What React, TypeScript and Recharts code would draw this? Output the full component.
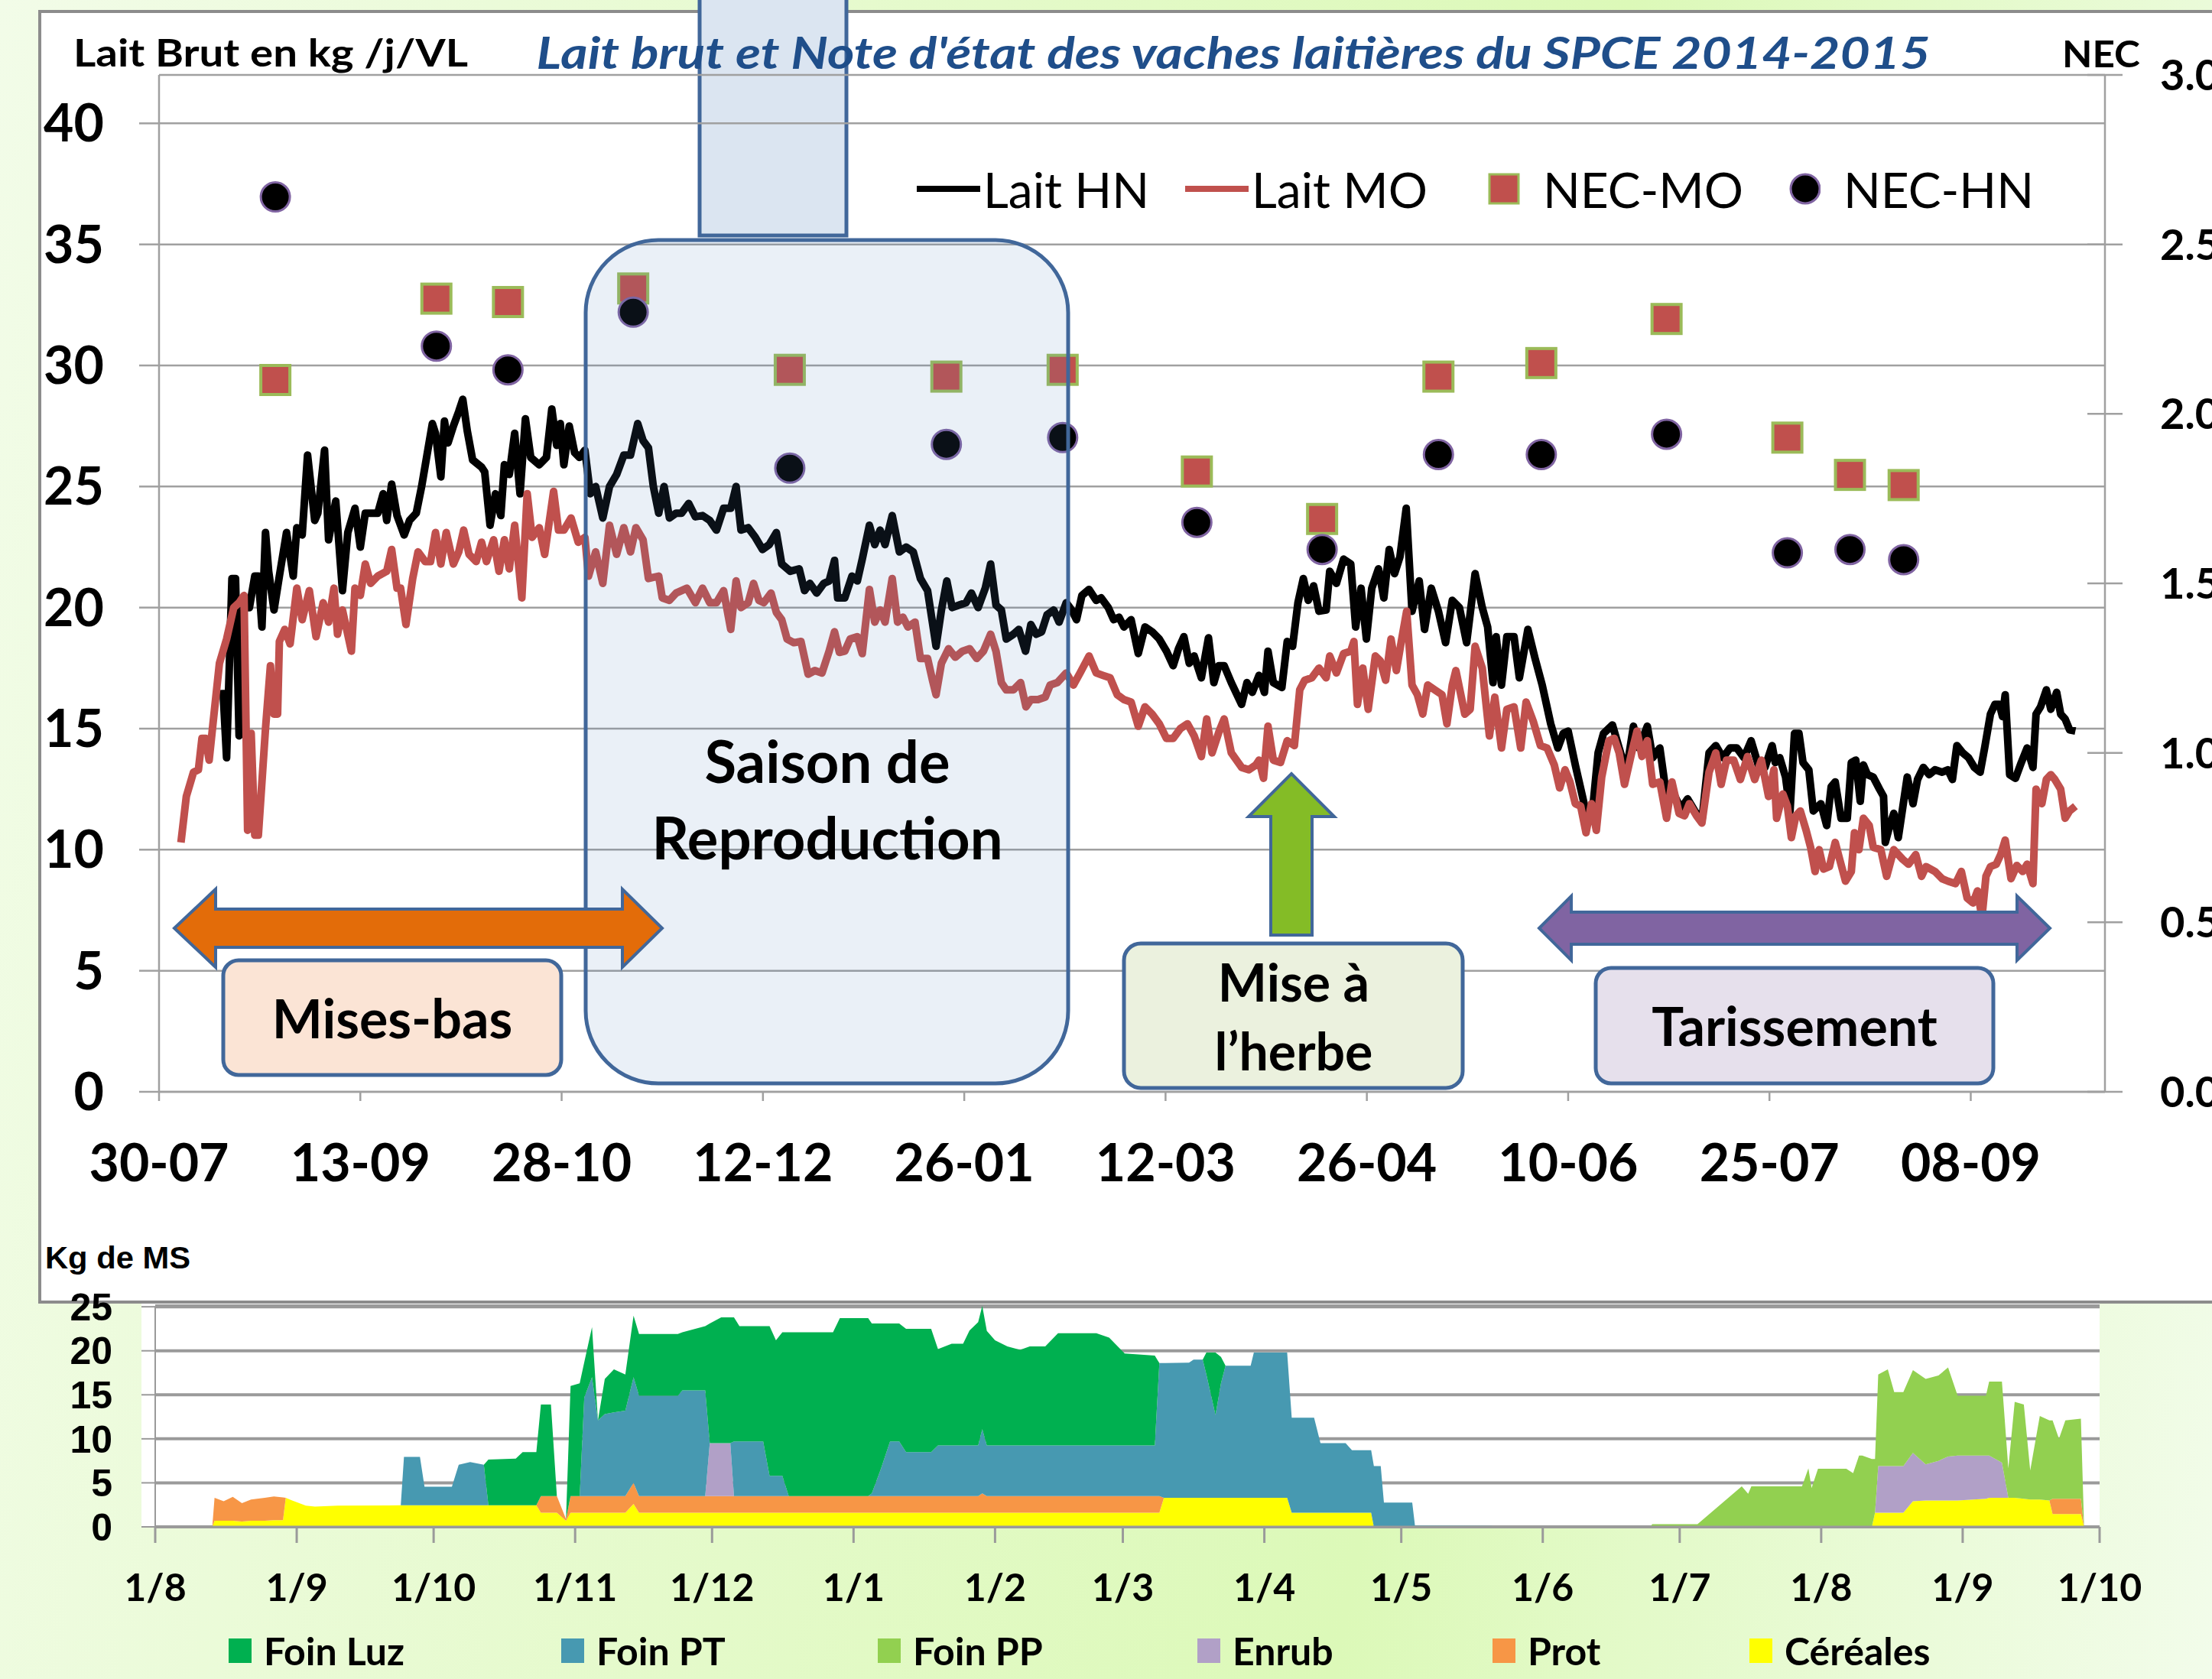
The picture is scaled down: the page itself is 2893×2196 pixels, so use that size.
import React from 'react';
import {
  Area,
  AreaChart,
  CartesianGrid,
  ComposedChart,
  Legend,
  Line,
  Scatter,
  XAxis,
  YAxis,
} from 'recharts';

const FONT = 'Lato, "Open Sans", sans-serif';
const ARIAL = '"Liberation Sans", Arial, sans-serif';
const EDGE = '#41679a';

// ---- main chart : days since 30-07-2014 ----
const mainTicks = [0, 45, 90, 135, 180, 225, 270, 315, 360, 405];
const mainTickLabels = ['30-07', '13-09', '28-10', '12-12', '26-01', '12-03', '26-04', '10-06', '25-07', '08-09'];
const leftTicks = [0, 5, 10, 15, 20, 25, 30, 35, 40];
const rightTicks = [0, 0.5, 1, 1.5, 2, 2.5, 3];
const mainLegendOrder = ['Lait HN', 'Lait MO', 'NEC-MO', 'NEC-HN'];

const laitHN: [number, number][] = [
  [14.3, 16.6], [15.1, 13.8], [16.3, 21.2], [17.1, 21.2], [17.9, 14.7], [19.0, 20.0], [20.2, 20.0], [21.4, 21.3], [22.2, 21.3], [23.0, 19.2],
  [23.8, 23.1], [24.5, 21.5], [25.7, 19.9], [26.9, 21.3], [28.5, 23.1], [30.0, 21.3], [30.8, 23.3], [32.0, 23.0], [33.2, 26.3], [34.8, 23.6],
  [35.5, 23.9], [37.0, 26.5], [37.9, 22.8], [39.5, 24.4], [41.0, 20.7], [42.2, 23.1], [43.8, 24.1], [45.0, 22.5], [46.1, 23.9], [48.9, 23.9],
  [50.1, 24.7], [50.9, 23.6], [52.0, 25.1], [53.2, 23.8], [54.8, 23.0], [56.0, 23.6], [57.5, 23.9], [58.7, 25.0], [59.9, 26.3], [61.1, 27.6],
  [61.8, 27.2], [63.0, 25.4], [63.8, 27.7], [64.6, 26.8], [65.8, 27.5], [67.0, 28.1], [67.9, 28.6], [68.9, 27.3], [70.1, 26.1], [72.1, 25.8],
  [72.8, 25.6], [74.0, 23.4], [75.2, 24.7], [76.4, 23.8], [77.2, 25.9], [78.3, 25.5], [79.5, 27.2], [80.7, 24.7], [81.9, 27.8], [83.1, 26.2],
  [85.0, 25.9], [86.6, 26.2], [87.8, 28.2], [88.9, 26.7], [89.7, 27.6], [90.5, 25.9], [91.7, 27.5], [92.9, 26.4], [94.0, 26.2], [95.2, 26.5],
  [96.4, 24.7], [97.6, 25.0], [99.2, 23.7], [100.7, 25.0], [102.3, 25.5], [103.9, 26.3], [105.4, 26.3], [107.0, 27.6], [108.2, 26.9], [109.4, 26.6],
  [110.5, 25.0], [111.7, 23.9], [112.9, 25.0], [114.1, 23.7], [115.6, 23.9], [116.8, 23.9], [118.4, 24.3],
  [119.9, 23.75], [121.5, 23.8], [123.1, 23.6], [124.6, 23.2], [126.2, 24.1], [127.8, 24.1], [129.0, 25.0], [130.1, 23.2], [131.7, 23.3], [133.3, 22.9],
  [134.9, 22.4], [136.4, 22.6], [138.0, 23.1], [139.2, 21.8], [141.1, 21.5], [143.1, 21.6], [144.3, 20.7], [145.5, 21.0], [147.0, 20.6], [148.6, 21.0],
  [149.8, 21.1], [151.0, 21.95], [151.7, 20.4], [153.3, 20.4], [154.9, 21.3], [156.1, 21.1], [157.2, 22.0], [158.8, 23.4], [160.0, 22.6], [161.2, 23.2],
  [162.3, 22.6], [163.9, 23.8], [165.5, 22.3], [167.0, 22.5], [168.6, 22.3], [170.2, 21.2], [171.8, 20.7], [173.7, 18.4], [174.9, 19.9], [176.1, 21.1],
  [177.3, 20.0], [178.8, 20.1], [180.4, 20.2], [181.6, 20.6], [183.1, 20.0], [184.7, 20.8], [185.9, 21.8], [187.1, 20.1], [188.3, 19.9], [189.4, 18.7],
  [191.0, 18.9], [192.2, 19.1], [193.7, 18.2], [194.9, 19.3], [196.1, 18.9], [197.3, 19.0], [198.5, 19.7], [200.0, 19.9], [201.2, 19.4], [202.8, 20.2],
  [204.0, 19.9], [205.1, 19.5], [206.3, 20.5], [207.9, 20.75], [209.5, 20.3], [210.6, 20.4], [212.2, 20.0], [213.4, 19.5], [214.6, 19.6], [215.7, 19.2],
  [217.3, 19.5], [218.9, 18.1], [220.4, 19.2], [222.0, 19.0], [223.6, 18.7], [225.2, 18.2], [226.7, 17.6], [227.9, 18.3], [229.1, 18.8], [230.3, 17.7],
  [231.4, 18.0], [233.0, 17.1], [234.6, 18.75], [235.8, 16.9], [236.9, 17.6], [238.1, 17.6], [239.7, 16.9],
  [242.0, 16.0], [243.2, 16.9], [244.4, 16.5], [245.9, 17.2], [247.1, 16.5], [247.9, 18.2], [249.1, 16.9], [251.0, 16.7], [252.2, 18.6], [253.4, 18.4],
  [254.6, 20.2], [255.8, 21.2], [256.9, 20.3], [258.1, 20.9], [259.3, 19.85], [260.9, 19.9], [261.7, 21.5], [263.2, 21.0], [264.8, 22.0], [266.4, 21.8],
  [267.5, 19.2], [268.7, 20.8], [269.9, 18.7], [271.1, 20.8], [272.6, 21.6], [273.8, 20.4], [275.0, 22.4], [276.2, 21.4], [277.4, 22.1], [278.8, 24.1],
  [280.1, 19.85], [281.7, 21.1], [282.9, 19.1], [284.4, 20.8], [286.0, 19.85], [287.6, 18.55], [289.1, 20.3], [290.7, 20.0], [292.3, 18.55], [294.2, 21.4],
  [295.8, 20.0], [297.0, 19.2], [298.2, 16.9], [298.9, 18.8], [300.1, 16.8], [301.3, 18.8], [302.9, 18.8], [304.1, 17.1], [306.0, 19.1], [307.6, 17.9],
  [309.2, 16.8], [311.1, 15.2], [312.7, 14.2], [313.9, 14.8], [315.0, 14.9], [316.6, 13.5], [318.2, 12.2], [319.4, 11.2], [320.5, 11.7], [321.7, 14.0],
  [322.9, 14.8], [324.9, 15.15], [326.4, 14.2], [328.0, 13.2], [329.6, 15.1], [330.8, 14.2], [332.7, 15.1], [333.9, 13.8], [335.5, 14.2], [337.0, 12.2],
  [338.6, 12.3], [340.2, 11.7], [341.7, 12.1], [343.3, 11.6], [344.9, 11.2], [346.5, 14.0], [348.0, 14.3], [349.6, 13.8], [351.2, 14.2], [352.7, 14.2],
  [354.3, 13.8], [355.9, 14.5], [357.5, 13.5], [359.0, 13.4], [360.6, 14.3],
  [361.3, 13.6], [362.3, 13.8], [363.6, 13.0], [364.6, 11.6], [365.6, 14.8], [366.6, 14.8], [367.5, 13.6], [368.8, 13.3], [369.8, 11.6], [371.5, 11.9],
  [372.8, 11.0], [373.8, 12.6], [374.7, 12.8], [376.0, 11.3], [377.4, 11.3], [378.3, 13.6], [379.3, 13.7], [380.3, 12.0], [381.0, 13.5], [381.9, 13.1],
  [383.2, 13.0], [384.6, 12.5], [385.5, 12.2], [385.9, 10.3], [386.9, 11.0], [387.8, 11.5], [388.8, 10.5], [389.8, 11.75], [390.8, 13.0], [392.1, 11.9],
  [393.1, 12.9], [394.4, 13.4], [395.7, 13.1], [397.0, 13.3], [398.6, 13.2], [399.9, 13.3], [400.9, 12.9], [401.9, 14.3], [403.2, 14.0], [404.5, 13.8],
  [405.8, 13.4], [407.1, 13.2], [408.1, 14.2], [409.4, 15.6], [410.4, 16.0], [411.4, 16.0], [412.1, 15.5], [412.7, 16.4], [413.7, 13.1], [415.0, 12.95],
  [416.3, 13.6], [417.6, 14.2], [418.9, 13.4], [419.6, 15.6], [420.6, 15.9], [421.9, 16.6], [422.9, 15.8], [424.2, 16.5], [425.1, 15.6], [426.1, 15.4],
  [427.1, 14.95], [428.4, 14.9],
];

const laitMO: [number, number][] = [
  [4.9, 10.3], [6.1, 12.2], [7.7, 13.2], [8.8, 13.3], [9.6, 14.6], [10.4, 14.6], [11.2, 13.7], [12.0, 15.1], [13.5, 17.7], [15.1, 18.7],
  [16.7, 20.0], [17.9, 20.2], [19.0, 20.5], [19.8, 10.8], [20.6, 14.8], [21.4, 10.6], [22.2, 10.6], [23.8, 15.0], [24.9, 17.6], [25.7, 15.6],
  [26.5, 15.6], [26.9, 18.6], [28.1, 19.1], [29.3, 18.5], [30.8, 20.8], [32.0, 19.5], [33.6, 20.7], [35.1, 18.8], [36.7, 20.2], [37.9, 19.4],
  [39.1, 20.8], [39.9, 18.9], [41.0, 19.9], [43.0, 18.2], [43.8, 20.8], [45.0, 20.5], [46.1, 21.8], [47.3, 21.0], [48.9, 21.3], [50.9, 21.5],
  [52.0, 22.4], [53.2, 20.8], [54.0, 20.8], [55.2, 19.3], [56.7, 21.2], [57.9, 22.3], [59.5, 21.9], [60.7, 21.9], [61.8, 23.1], [63.0, 21.8],
  [64.2, 23.1], [65.8, 21.8], [67.0, 22.3], [68.1, 23.2], [69.3, 22.2], [70.9, 21.9], [72.1, 22.7], [73.2, 21.9], [74.8, 22.8], [76.0, 21.5],
  [77.2, 22.8], [78.3, 21.6], [79.5, 23.4], [81.1, 20.4], [82.3, 24.7], [83.4, 22.9], [85.0, 23.3], [86.2, 22.2], [88.2, 24.8], [89.3, 23.2],
  [90.5, 23.2], [92.1, 23.7], [93.7, 22.7], [95.2, 22.9], [96.0, 21.3], [97.6, 22.3], [99.2, 21.0], [100.7, 23.4], [102.3, 22.2], [103.9, 23.3],
  [105.4, 22.3], [106.6, 23.3], [108.2, 22.8], [109.4, 21.2], [111.7, 21.3], [112.5, 20.4], [114.1, 20.3], [115.6, 20.6], [118.0, 20.8],
  [119.9, 20.2], [121.5, 20.8], [123.1, 20.2], [124.6, 20.2], [126.2, 20.7], [127.8, 19.1], [129.0, 21.1], [130.1, 20.0], [131.7, 20.2], [132.9, 21.0],
  [134.1, 20.3], [135.2, 20.2], [136.8, 20.6], [138.0, 19.8], [139.2, 19.5], [140.4, 18.7], [141.9, 18.55], [143.5, 18.6], [145.1, 17.25], [146.6, 17.4],
  [148.2, 17.3], [149.8, 18.2], [151.0, 19.0], [152.1, 18.15], [153.3, 18.2], [154.5, 18.7], [156.1, 18.8], [157.2, 18.1], [158.8, 20.75], [160.0, 19.4],
  [161.2, 19.9], [162.3, 19.4], [163.9, 21.2], [165.1, 19.4], [166.3, 19.6], [167.4, 19.2], [169.0, 19.4], [170.2, 17.9], [171.8, 17.9], [172.9, 17.0],
  [173.7, 16.4], [174.9, 17.7], [176.5, 18.3], [178.0, 17.95], [179.6, 18.2], [181.2, 18.3], [182.8, 17.9], [184.3, 18.2], [185.9, 18.9], [187.1, 18.2],
  [188.3, 16.9], [189.4, 16.6], [191.0, 16.6], [192.6, 16.9], [193.8, 15.9], [194.9, 16.2], [196.5, 16.2], [198.1, 16.3], [199.2, 16.8], [200.8, 16.9],
  [202.8, 17.3], [204.4, 16.8], [205.9, 17.3], [207.9, 18.0], [209.5, 17.3], [211.0, 17.2], [212.6, 17.1], [214.2, 16.4], [215.7, 16.2], [217.3, 16.1],
  [218.9, 15.1], [220.4, 15.9], [222.0, 15.6], [223.6, 15.2], [225.2, 14.6], [226.7, 14.6], [228.3, 15.0], [229.9, 15.2], [231.4, 14.7], [233.0, 13.85],
  [234.2, 15.4], [235.4, 14.0], [237.0, 14.9], [238.1, 15.4], [239.7, 14.0],
  [242.0, 13.4], [243.6, 13.3], [245.2, 13.5], [245.9, 13.7], [246.9, 12.95], [247.9, 15.1], [249.1, 13.7], [250.7, 13.6], [252.2, 14.5], [253.8, 14.3],
  [255.0, 16.6], [256.1, 17.0], [257.7, 17.1], [259.3, 17.5], [260.9, 17.1], [261.7, 18.0], [263.2, 17.3], [264.8, 18.1], [266.4, 18.2], [267.1, 18.6],
  [267.9, 16.0], [269.1, 17.5], [270.3, 15.8], [271.9, 18.0], [273.0, 17.8], [274.2, 17.0], [275.4, 18.7], [276.6, 17.4], [277.7, 18.6], [278.9, 19.85],
  [280.1, 16.8], [281.3, 16.4], [282.5, 15.6], [283.6, 16.8], [285.2, 16.6], [286.8, 16.4], [287.9, 15.2], [289.1, 16.8], [289.9, 17.4], [291.9, 15.6],
  [293.1, 15.8], [294.2, 18.4], [295.8, 17.5], [297.4, 14.7], [298.6, 16.3], [300.1, 14.2], [301.3, 15.8], [302.9, 15.9], [304.4, 14.2], [305.6, 16.1],
  [307.2, 15.3], [308.8, 14.3], [310.3, 14.2], [311.9, 13.5], [313.1, 12.55], [314.3, 13.3], [315.4, 12.8], [316.6, 11.9], [317.8, 11.8], [319.0, 10.7],
  [320.2, 11.9], [321.3, 10.8], [322.5, 13.0], [324.1, 14.5], [325.3, 14.6], [326.4, 14.0], [327.6, 12.7], [329.2, 14.0], [330.4, 14.9], [331.5, 13.85],
  [332.7, 14.5], [333.9, 12.7], [335.5, 12.8], [337.0, 11.3], [338.2, 12.8], [339.8, 11.5], [341.0, 11.4], [342.1, 11.9], [343.7, 11.4], [344.9, 11.1],
  [346.5, 13.2], [348.0, 14.0], [349.2, 12.7], [350.4, 13.7], [352.0, 13.7], [353.5, 12.9], [355.1, 13.85], [356.7, 12.9], [358.2, 13.7], [359.8, 12.2],
  [361.0, 13.3], [361.6, 11.3], [363.0, 12.3], [364.0, 11.8], [364.9, 10.5], [365.9, 11.4], [366.9, 11.6], [368.2, 10.8], [369.2, 10.1], [370.2, 9.1],
  [371.1, 10.0], [372.1, 9.2], [373.4, 9.3], [374.7, 10.3], [375.7, 9.6], [377.0, 8.7], [378.3, 9.1], [379.0, 10.7], [380.0, 10.0], [381.0, 11.3],
  [382.3, 11.0], [383.2, 10.1], [384.9, 10.0], [386.2, 8.9], [387.8, 10.0], [389.8, 9.6], [391.1, 9.4], [392.7, 9.8], [394.0, 8.9], [395.0, 9.3],
  [397.0, 9.1], [398.6, 8.8], [399.9, 8.7], [401.6, 8.6], [402.9, 9.1], [404.2, 8.0], [405.5, 7.8], [406.5, 8.3], [407.5, 7.2], [408.4, 8.9],
  [409.4, 9.3], [410.7, 9.4], [411.7, 9.8], [412.7, 10.4], [414.0, 8.8], [415.3, 9.35], [416.6, 9.1], [417.6, 9.4], [418.9, 8.6], [419.6, 12.5],
  [420.9, 11.9], [421.9, 12.9], [422.9, 13.1], [423.8, 12.9], [425.1, 12.5], [426.1, 11.3], [427.1, 11.6], [428.4, 11.8],
];

// NEC (note d'état corporel), secondary axis
const necDays = [26, 62, 78, 106, 141, 176, 202, 232, 260, 286, 309, 337, 364, 378, 390];
const necMO = [2.1, 2.34, 2.33, 2.37, 2.13, 2.11, 2.13, 1.83, 1.69, 2.11, 2.15, 2.28, 1.93, 1.82, 1.79];
const necHN = [2.64, 2.2, 2.13, 2.3, 1.84, 1.91, 1.93, 1.68, 1.6, 1.88, 1.88, 1.94, 1.59, 1.6, 1.57];

// ---- feed chart : days since 01-08-2014 ----
const feedTicks = [0, 31, 61, 92, 122, 153, 184, 212, 243, 273, 304, 334, 365, 396, 426];
const feedTickLabels = ['1/8', '1/9', '1/10', '1/11', '1/12', '1/1', '1/2', '1/3', '1/4', '1/5', '1/6', '1/7', '1/8', '1/9', '1/10'];
const feedTicksY = [0, 5, 10, 15, 20, 25];
const feedLegendOrder = ['Foin Luz', 'Foin PT', 'Foin PP', 'Enrub', 'Prot', 'Céréales'];

const feedDays = [
  0, 12.5, 13, 15, 17, 19, 21, 24, 26, 28,
  28.6, 30, 33, 35, 40, 53.8, 54.5, 58, 59, 65,
  66.5, 69, 72, 73, 79, 80.5, 83.5, 84.5, 86.7, 88,
  90, 91, 93, 94, 95.7, 97, 98.5, 100.5, 103, 104.8,
  106, 114.5, 115.5, 120.5, 121.5, 124, 126, 126.8, 128, 133.2,
  134.6, 136, 137.4, 138.8, 148.5, 150, 156.2, 157, 159, 161,
  163, 164.5, 170, 171.5, 174.5, 177, 178.4, 180.3, 181.2, 182.2,
  184, 186.7, 189.5, 191.6, 195, 197.8, 206.2, 209, 212.4, 219,
  220, 221, 226.5, 227.5, 229.5, 230.3, 232.3, 233.5, 234.5, 240,
  240.7, 248, 249, 253.9, 255.3, 260.8, 262.2, 266.4, 267, 268.5,
  269.2, 275.4, 276, 292.8, 293.5, 327.5, 328, 337.9, 347.6, 349,
  349.7, 360.8, 362.2, 362.9, 364.3, 370.5, 372, 373.3, 374, 376.1,
  376.8, 377.5, 379.6, 381, 383, 385.1, 387.9, 390.7, 392.8, 394.9,
  401.1, 401.8, 404.6, 406, 407.4, 409.4, 410.8, 412.9, 415, 415.7,
  417.1, 418.5, 421.9, 422.6, 426,
];
const cereales = [
  0, 0, 0.7, 0.7, 0.7, 0.6, 0.7, 0.7, 0.75, 0.75,
  3.3, 3.0, 2.4, 2.3, 2.4, 2.45, 2.45, 2.45, 2.45, 2.45,
  2.45, 2.45, 2.45, 2.45, 2.45, 2.45, 2.45, 1.6, 1.6, 1.6,
  0.7, 1.6, 1.6, 1.6, 1.6, 1.6, 1.6, 1.6, 1.6, 2.6,
  1.6, 1.6, 1.6, 1.6, 1.6, 1.6, 1.6, 1.6, 1.6, 1.6,
  1.6, 1.6, 1.6, 1.6, 1.6, 1.6, 1.6, 1.6, 1.6, 1.6,
  1.6, 1.6, 1.6, 1.6, 1.6, 1.6, 1.6, 1.6, 1.6, 1.6,
  1.6, 1.6, 1.6, 1.6, 1.6, 1.6, 1.6, 1.6, 1.6, 1.6,
  1.6, 3.3, 3.3, 3.3, 3.3, 3.3, 3.3, 3.3, 3.3, 3.3,
  3.3, 3.3, 1.6, 1.6, 1.6, 1.6, 1.6, 1.6, 0, 0,
  0, 0, 0, 0, 0, 0, 0, 0, 0, 0,
  0, 0, 0, 0, 0, 0, 0, 0, 0, 0,
  1.6, 1.6, 1.6, 1.6, 1.6, 2.9, 3.0, 3.0, 3.0, 3.0,
  3.2, 3.3, 3.3, 3.3, 3.3, 3.2, 3.1, 3.1, 3.0, 1.45,
  1.45, 1.45, 1.45, 0, 0,
];
const prot = [
  0, 0, 2.6, 2.2, 2.7, 2.1, 2.4, 2.6, 2.7, 2.6,
  0, 0, 0, 0, 0, 0, 0, 0, 0, 0,
  0, 0, 0, 0, 0, 0, 0, 1.9, 1.9, 1.9,
  0.2, 1.9, 1.9, 1.9, 1.9, 1.9, 1.9, 1.9, 1.9, 2.4,
  1.9, 1.9, 1.9, 1.9, 1.9, 1.9, 1.9, 1.9, 1.9, 1.9,
  1.9, 1.9, 1.9, 1.9, 1.9, 1.9, 1.9, 1.9, 1.9, 1.9,
  1.9, 1.9, 1.9, 1.9, 1.9, 1.9, 1.9, 1.9, 2.2, 1.9,
  1.9, 1.9, 1.9, 1.9, 1.9, 1.9, 1.9, 1.9, 1.9, 1.9,
  1.9, 0, 0, 0, 0, 0, 0, 0, 0, 0,
  0, 0, 0, 0, 0, 0, 0, 0, 0, 0,
  0, 0, 0, 0, 0, 0, 0, 0, 0, 0,
  0, 0, 0, 0, 0, 0, 0, 0, 0, 0,
  0, 0, 0, 0, 0, 0, 0, 0, 0, 0,
  0, 0, 0, 0, 0, 0, 0, 0, 0, 1.75,
  1.75, 1.75, 1.75, 0, 0,
];
const enrub = [
  0, 0, 0, 0, 0, 0, 0, 0, 0, 0,
  0, 0, 0, 0, 0, 0, 0, 0, 0, 0,
  0, 0, 0, 0, 0, 0, 0, 0, 0, 0,
  0, 0, 0, 0, 0, 0, 0, 0, 0, 0,
  0, 0, 0, 0, 6.0, 6.0, 6.0, 0, 0, 0,
  0, 0, 0, 0, 0, 0, 0, 0, 0, 0,
  0, 0, 0, 0, 0, 0, 0, 0, 0, 0,
  0, 0, 0, 0, 0, 0, 0, 0, 0, 0,
  0, 0, 0, 0, 0, 0, 0, 0, 0, 0,
  0, 0, 0, 0, 0, 0, 0, 0, 0, 0,
  0, 0, 0, 0, 0, 0, 0, 0, 0, 0,
  0, 0, 0, 0, 0, 0, 0, 0, 0, 0,
  0, 5.3, 5.3, 5.3, 5.3, 5.5, 4.1, 4.5, 5.0, 5.1,
  4.9, 4.8, 4.0, 0, 0, 0, 0, 0, 0, 0,
  0, 0, 0, 0, 0,
];
const foinPP = [
  0, 0, 0, 0, 0, 0, 0, 0, 0, 0,
  0, 0, 0, 0, 0, 0, 0, 0, 0, 0,
  0, 0, 0, 0, 0, 0, 0, 0, 0, 0,
  0, 0, 0, 0, 0, 0, 0, 0, 0, 0,
  0, 0, 0, 0, 0, 0, 0, 0, 0, 0,
  0, 0, 0, 0, 0, 0, 0, 0, 0, 0,
  0, 0, 0, 0, 0, 0, 0, 0, 0, 0,
  0, 0, 0, 0, 0, 0, 0, 0, 0, 0,
  0, 0, 0, 0, 0, 0, 0, 0, 0, 0,
  0, 0, 0, 0, 0, 0, 0, 0, 0, 0,
  0, 0, 0, 0, 0, 0, 0.3, 0.3, 4.6, 3.75,
  4.6, 4.6, 6.65, 4.4, 6.6, 6.6, 6.1, 8.1, 8.1, 7.7,
  6.1, 10.4, 11.0, 8.4, 8.4, 9.4, 9.7, 9.7, 10.1, 6.8,
  6.8, 8.4, 9.2, 3.35, 10.9, 10.7, 3.3, 9.5, 9.1, 8.9,
  6.8, 8.9, 9.1, 0, 0,
];
const foinPT = [
  0, 0, 0, 0, 0, 0, 0, 0, 0, 0,
  0, 0, 0, 0, 0, 0, 5.5, 5.5, 2.1, 2.1,
  4.6, 4.9, 4.6, 0, 0, 0, 0, 0, 0, 0,
  0, 0, 0, 11.2, 13.5, 8.6, 9.3, 9.5, 9.7, 12.0,
  11.4, 11.4, 12.0, 12.0, 0, 0, 0, 6.2, 6.2, 6.2,
  2.3, 2.3, 2.3, 0, 0, 0, 0, 0.3, 3.1, 6.2,
  6.2, 5.0, 5.0, 5.75, 5.75, 5.75, 5.75, 5.75, 7.3, 5.75,
  5.75, 5.75, 5.75, 5.75, 5.75, 5.75, 5.75, 5.75, 5.75, 5.75,
  15.1, 15.3, 15.35, 15.7, 15.7, 14.0, 9.4, 13.0, 15.0, 15.0,
  16.5, 16.5, 10.8, 10.8, 7.9, 7.9, 7.1, 7.1, 6.9, 6.9,
  2.75, 2.75, 0.15, 0.1, 0, 0, 0, 0, 0, 0,
  0, 0, 0, 0, 0, 0, 0, 0, 0, 0,
  0, 0, 0, 0, 0, 0, 0, 0, 0, 0,
  0, 0, 0, 0, 0, 0, 0, 0, 0, 0,
  0, 0, 0, 0, 0,
];
const foinLuz = [
  0, 0, 0, 0, 0, 0, 0, 0, 0, 0,
  0, 0, 0, 0, 0, 0, 0, 0, 0, 0,
  0, 0, 0, 5.2, 5.3, 6.05, 6.05, 10.4, 10.4, 0,
  0, 12.5, 12.8, 4.0, 5.7, 0, 4.0, 4.9, 4.1, 7.0,
  7.0, 7.0, 6.6, 7.3, 13.6, 14.3, 14.3, 14.1, 13.1, 13.1,
  17.0, 15.4, 16.3, 18.6, 18.6, 20.2, 20.2, 19.3, 16.5, 13.4,
  13.4, 14.0, 14.0, 10.95, 11.55, 11.55, 13.05, 14.0, 14.0, 13.0,
  11.95, 11.25, 10.85, 11.25, 11.25, 12.75, 12.75, 12.25, 10.45, 10.2,
  0, 0, 0, 0, 0, 2.5, 7.1, 3.0, 0, 0,
  0, 0, 0, 0, 0, 0, 0, 0, 0, 0,
  0, 0, 0, 0, 0, 0, 0, 0, 0, 0,
  0, 0, 0, 0, 0, 0, 0, 0, 0, 0,
  0, 0, 0, 0, 0, 0, 0, 0, 0, 0,
  0, 0, 0, 0, 0, 0, 0, 0, 0, 0,
  0, 0, 0, 0, 0,
];

const hnData = laitHN.map(([d, v]) => ({ d, v }));
const moData = laitMO.map(([d, v]) => ({ d, v }));
const necMOData = necDays.map((d, i) => ({ d, v: necMO[i] }));
const necHNData = necDays.map((d, i) => ({ d, v: necHN[i] }));
const feedData = feedDays.map((d, i) => ({
  d,
  cer: cereales[i],
  prot: prot[i],
  enrub: enrub[i],
  pp: foinPP[i],
  pt: foinPT[i],
  luz: foinLuz[i],
}));

const SquareDot = (p: any) => (
  <rect x={p.cx - 19} y={p.cy - 19} width={38} height={38} fill="#c0504d" stroke="#9bbb59" strokeWidth={4} />
);
const RoundDot = (p: any) => <circle cx={p.cx} cy={p.cy} r={19} fill="#000" stroke="#8064a2" strokeWidth={3} />;

const RightTick = (props: any) => {
  const { x, y, payload } = props;
  const ax = x - 72;
  return (
    <g>
      <line x1={ax - 23} x2={ax + 23} y1={y} y2={y} stroke="#a0a0a0" strokeWidth={2.5} />
      <text x={x} y={y} dy="0.36em" textAnchor="start" fontFamily={FONT} fontWeight="bold" fontSize={56} fill="#000">
        {Number(payload.value).toFixed(1)}
      </text>
    </g>
  );
};

const sortBy = (items: any[], order: string[]) =>
  [...items].sort((a, b) => order.indexOf(a.value) - order.indexOf(b.value));

const mainLegendWidths = [351, 396, 394, 320];
const renderMainLegend = (props: any) => {
  const items = sortBy(props.payload || [], mainLegendOrder);
  return (
    <div style={{ display: 'flex', alignItems: 'center', height: 74, fontFamily: FONT, fontSize: 64, color: '#000', whiteSpace: 'nowrap' }}>
      {items.map((e: any, i: number) => (
        <div key={e.value} style={{ width: mainLegendWidths[i], display: 'flex', alignItems: 'center' }}>
          {e.type === 'line' && (
            <svg width={83} height={20}><line x1={0} x2={83} y1={10} y2={10} stroke={e.color} strokeWidth={8} /></svg>
          )}
          {e.type === 'square' && (
            <svg width={42} height={42}><rect x={2} y={2} width={38} height={38} fill="#c0504d" stroke="#9bbb59" strokeWidth={3} /></svg>
          )}
          {e.type === 'circle' && (
            <svg width={42} height={42}><circle cx={21} cy={21} r={19} fill="#000" stroke="#8064a2" strokeWidth={3} /></svg>
          )}
          <span style={{ marginLeft: e.type === 'line' ? 4 : 30 }}>{e.value}</span>
        </div>
      ))}
    </div>
  );
};

const feedLegendWidths = [435, 414, 418, 386, 336, 260];
const renderFeedLegend = (props: any) => {
  const items = sortBy(props.payload || [], feedLegendOrder);
  return (
    <div style={{ display: 'flex', alignItems: 'center', height: 60, fontFamily: FONT, fontWeight: 'bold', fontSize: 50, color: '#000', whiteSpace: 'nowrap' }}>
      {items.map((e: any, i: number) => (
        <div key={e.value} style={{ width: feedLegendWidths[i], display: 'flex', alignItems: 'center' }}>
          <div style={{ width: 30, height: 32, background: e.color }} />
          <span style={{ marginLeft: 16 }}>{e.value}</span>
        </div>
      ))}
    </div>
  );
};

const gridStroke = '#a0a0a0';

export default function App() {
  return (
    <div
      style={{
        position: 'absolute',
        left: 0,
        top: 0,
        width: 2893,
        height: 2196,
        overflow: 'hidden',
        background: 'linear-gradient(100deg, #f2fce8 0%, #e4fac9 40%, #dcf9b8 65%, #f2fcea 100%)',
      }}
    >
      {/* white panel of the upper chart */}
      <div
        style={{
          position: 'absolute',
          left: 50,
          top: 13,
          width: 2900,
          height: 1692,
          background: '#fff',
          border: '4px solid #8c8c8c',
          boxSizing: 'border-box',
        }}
      />
      {/* white plot band of the lower chart */}
      <div style={{ position: 'absolute', left: 185, top: 1705, width: 2561, height: 292, background: '#fff' }} />

      {/* box behind the title */}
      <svg width={2893} height={400} style={{ position: 'absolute', left: 0, top: 0 }}>
        <rect x={915} y={-10} width={192} height={318} fill="#dbe5f1" stroke={EDGE} strokeWidth={5} />
      </svg>

      <div style={{ position: 'absolute', left: 0, top: 0 }}>
        <ComposedChart width={2893} height={1700} margin={{ top: 98, right: 53, bottom: 172, left: 50 }}>
          <CartesianGrid yAxisId="left" vertical={false} stroke={gridStroke} strokeWidth={2.5} />
          <XAxis
            type="number"
            dataKey="d"
            domain={[0, 435]}
            ticks={mainTicks}
            interval={0}
            allowDataOverflow
            height={100}
            tickSize={12}
            tickMargin={57}
            stroke={gridStroke}
            strokeWidth={2.5}
            tickFormatter={(v: number) => mainTickLabels[mainTicks.indexOf(v)]}
            tick={{ fontFamily: FONT, fontWeight: 'bold', fontSize: 68, fill: '#000' }}
          />
          <YAxis
            yAxisId="left"
            domain={[0, 42]}
            ticks={leftTicks}
            interval={0}
            width={158}
            tickSize={26}
            tickMargin={46}
            stroke={gridStroke}
            strokeWidth={2.5}
            tick={{ fontFamily: FONT, fontWeight: 'bold', fontSize: 68, fill: '#000' }}
          />
          <YAxis
            yAxisId="right"
            orientation="right"
            domain={[0, 3]}
            ticks={rightTicks}
            interval={0}
            width={87}
            tickSize={23}
            tickMargin={49}
            tickLine={false}
            stroke={gridStroke}
            strokeWidth={2.5}
            tick={<RightTick />}
          />
          <Legend
            verticalAlign="middle"
            align="center"
            layout="horizontal"
            content={renderMainLegend}
            wrapperStyle={{ left: 1199, top: 210, width: 1560, height: 74 }}
          />
          <Line
            yAxisId="left"
            data={hnData}
            dataKey="v"
            name="Lait HN"
            type="linear"
            stroke="#000"
            strokeWidth={10}
            strokeLinejoin="round"
            dot={false}
            legendType="line"
            isAnimationActive={false}
          />
          <Line
            yAxisId="left"
            data={moData}
            dataKey="v"
            name="Lait MO"
            type="linear"
            stroke="#c0504d"
            strokeWidth={10}
            strokeLinejoin="round"
            dot={false}
            legendType="line"
            isAnimationActive={false}
          />
          <Scatter
            yAxisId="right"
            data={necMOData}
            dataKey="v"
            name="NEC-MO"
            fill="#c0504d"
            legendType="square"
            shape={SquareDot}
            isAnimationActive={false}
          />
          <Scatter
            yAxisId="right"
            data={necHNData}
            dataKey="v"
            name="NEC-HN"
            fill="#000"
            legendType="circle"
            shape={RoundDot}
            isAnimationActive={false}
          />
        </ComposedChart>
      </div>

      <div style={{ position: 'absolute', left: 0, top: 1600 }}>
        <AreaChart width={2893} height={596} data={feedData} margin={{ top: 108, right: 147, bottom: 89, left: 0 }}>
          <CartesianGrid vertical={false} stroke="#9a9a9a" strokeWidth={4} />
          <XAxis
            type="number"
            dataKey="d"
            domain={[0, 426]}
            ticks={feedTicks}
            interval={0}
            height={110}
            tickSize={21}
            tickMargin={40}
            stroke="#9a9a9a"
            strokeWidth={3}
            tickFormatter={(v: number) => feedTickLabels[feedTicks.indexOf(v)]}
            tick={{ fontFamily: FONT, fontWeight: 'bold', fontSize: 50, fill: '#000' }}
          />
          <YAxis
            domain={[0, 25]}
            ticks={feedTicksY}
            interval={0}
            width={203}
            tickSize={18}
            tickMargin={38}
            stroke="#9a9a9a"
            strokeWidth={2}
            tick={{ fontFamily: ARIAL, fontWeight: 'bold', fontSize: 50, fill: '#000' }}
          />
          <Legend
            verticalAlign="middle"
            align="center"
            layout="horizontal"
            content={renderFeedLegend}
            wrapperStyle={{ left: 299, top: 529, width: 2500, height: 60 }}
          />
          <Area stackId="feed" type="linear" dataKey="cer" name="Céréales" fill="#ffff00" stroke="none" fillOpacity={1} isAnimationActive={false} />
          <Area stackId="feed" type="linear" dataKey="prot" name="Prot" fill="#f79646" stroke="none" fillOpacity={1} isAnimationActive={false} />
          <Area stackId="feed" type="linear" dataKey="enrub" name="Enrub" fill="#b1a0c7" stroke="none" fillOpacity={1} isAnimationActive={false} />
          <Area stackId="feed" type="linear" dataKey="pp" name="Foin PP" fill="#92d050" stroke="none" fillOpacity={1} isAnimationActive={false} />
          <Area stackId="feed" type="linear" dataKey="pt" name="Foin PT" fill="#4799b1" stroke="none" fillOpacity={1} isAnimationActive={false} />
          <Area stackId="feed" type="linear" dataKey="luz" name="Foin Luz" fill="#00b050" stroke="none" fillOpacity={1} isAnimationActive={false} />
        </AreaChart>
      </div>

      {/* annotations */}
      <svg width={2893} height={2196} style={{ position: 'absolute', left: 0, top: 0, pointerEvents: 'none' }}>
        <text x={1613} y={90} textAnchor="middle" fontFamily={FONT} fontStyle="italic" fontWeight="bold" fontSize={58} fill="#1f4e8a" textLength={1823} lengthAdjust="spacingAndGlyphs">
          Lait brut et Note d'état des vaches laitières du SPCE 2014-2015
        </text>
        <text x={96} y={87} fontFamily={FONT} fontWeight="bold" fontSize={50} fill="#000" textLength={516} lengthAdjust="spacingAndGlyphs">
          Lait Brut en kg /j/VL
        </text>
        <text x={2697} y={88} fontFamily={FONT} fontWeight="bold" fontSize={48} fill="#000" textLength={102} lengthAdjust="spacingAndGlyphs">
          NEC
        </text>
        <text x={59} y={1659} fontFamily={ARIAL} fontWeight="bold" fontSize={40} fill="#000" textLength={190} lengthAdjust="spacingAndGlyphs">
          Kg de MS
        </text>

        <rect x={766} y={314} width={631} height={1103} rx={95} ry={95} fill="#4f81bd" fillOpacity={0.12} stroke={EDGE} strokeWidth={5} />

        <polygon
          points="228,1214 282,1163 282,1189 814,1189 814,1163 866,1214 814,1265 814,1239 282,1239 282,1265"
          fill="#e36c09"
          stroke={EDGE}
          strokeWidth={4}
        />
        <polygon
          points="2013,1214 2055,1172 2055,1193 2638,1193 2638,1172 2681,1214 2638,1256 2638,1235 2055,1235 2055,1256"
          fill="#8064a2"
          stroke={EDGE}
          strokeWidth={4}
        />
        <polygon
          points="1689,1012 1745,1068 1716,1068 1716,1223 1662,1223 1662,1068 1633,1068"
          fill="#84bc26"
          stroke={EDGE}
          strokeWidth={4}
        />

        <rect x={292} y={1256} width={442} height={150} rx={20} fill="#fbe4d5" stroke={EDGE} strokeWidth={5} />
        <rect x={1470} y={1234} width={443} height={189} rx={22} fill="#ebf1de" stroke={EDGE} strokeWidth={5} />
        <rect x={2087} y={1266} width={520} height={151} rx={20} fill="#e6e0ec" stroke={EDGE} strokeWidth={5} />

        <g fontFamily={FONT} fontWeight="bold" fill="#000" textAnchor="middle">
          <text x={1082} y={1024} fontSize={76}>Saison de</text>
          <text x={1082} y={1124} fontSize={76}>Reproduction</text>
          <text x={513} y={1358} fontSize={70}>Mises-bas</text>
          <text x={1692} y={1310} fontSize={68}>Mise à</text>
          <text x={1692} y={1400} fontSize={68}>l’herbe</text>
          <text x={2347} y={1368} fontSize={70}>Tarissement</text>
        </g>
      </svg>
    </div>
  );
}
